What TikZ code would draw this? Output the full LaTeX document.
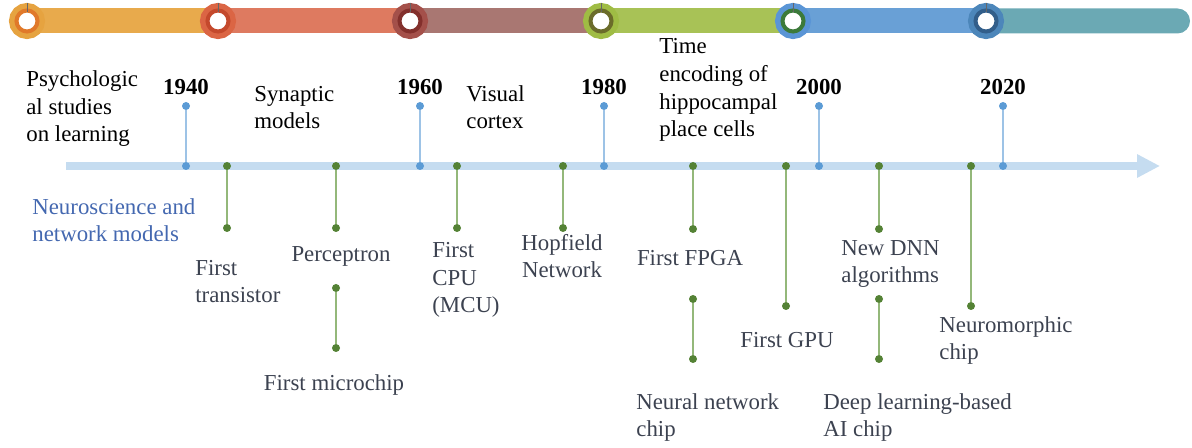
\documentclass[tikz,border=0pt]{standalone}
\usepackage{fontspec}
\setmainfont{Liberation Serif}
\usetikzlibrary{arrows.meta}
\definecolor{barA}{HTML}{E8AA4C}
\definecolor{barB}{HTML}{DE7A60}
\definecolor{barC}{HTML}{A97772}
\definecolor{barD}{HTML}{A8C256}
\definecolor{barE}{HTML}{69A0D6}
\definecolor{barF}{HTML}{6BA9B4}
\definecolor{ringAo}{HTML}{E6A340}
\definecolor{ringAi}{HTML}{E0792A}
\definecolor{ringBo}{HTML}{DB6544}
\definecolor{ringBi}{HTML}{C4492C}
\definecolor{ringCo}{HTML}{A4504A}
\definecolor{ringCi}{HTML}{83302C}
\definecolor{ringDo}{HTML}{9FBC44}
\definecolor{ringDi}{HTML}{6B6C2A}
\definecolor{ringEo}{HTML}{5A95D6}
\definecolor{ringEi}{HTML}{3C7A3A}
\definecolor{ringFo}{HTML}{4C86BA}
\definecolor{ringFi}{HTML}{325E8A}
\definecolor{axisblue}{HTML}{C5DCF0}
\definecolor{yearblue}{HTML}{5B9BD5}
\definecolor{stemblue}{HTML}{9DC3E6}
\definecolor{dotgreen}{HTML}{548235}
\definecolor{stemgreen}{HTML}{94B87A}
\definecolor{labelgrey}{HTML}{3C4250}
\definecolor{neuroblue}{HTML}{4468B0}
\begin{document}
\begin{tikzpicture}[x=0.02cm, y=-0.02cm,
    every node/.style={font=\fontsize{13}{15.9}\selectfont, inner sep=0pt},
    ring/.style 2 args={circle, minimum size=0.42cm, fill=white, draw=#2, line width=2.3pt, preaction={draw=#1, line width=8.5pt}},
    bdot/.style={circle, fill=yearblue, minimum size=0.16cm},
    gdot/.style={circle, fill=dotgreen, minimum size=0.16cm},
    bstem/.style={stemblue, line width=0.8pt},
    gstem/.style={stemgreen, line width=0.8pt},
    year/.style={anchor=base, font=\fontsize{13}{15.9}\selectfont\bfseries},
    toptxt/.style={anchor=base west, align=left},
    lbl/.style={anchor=base west, align=left, text=labelgrey},
    lblc/.style={anchor=base, align=center, text=labelgrey}]
    \useasboundingbox (0,0) rectangle (1192,448);

    % Barra colorata in alto
    \fill[barA] (15,8.5) rectangle (218,33.5);
    \fill[barB] (218,8.5) rectangle (410,33.5);
    \fill[barC] (410,8.5) rectangle (601,33.5);
    \fill[barD] (601,8.5) rectangle (793,33.5);
    \fill[barE] (793,8.5) rectangle (986,33.5);
    \fill[barF, rounded corners=0.25cm] (986,8.5) rectangle (1190,33.5);
    \node[ring={ringAo}{ringAi}] (r1) at (27,21) {};
    \node[ring={ringBo}{ringBi}] (r2) at (218,21) {};
    \node[ring={ringCo}{ringCi}] (r3) at (410,21) {};
    \node[ring={ringDo}{ringDi}] (r4) at (601,21) {};
    \node[ring={ringEo}{ringEi}] (r5) at (793,21) {};
    \node[ring={ringFo}{ringFi}] (r6) at (986,21) {};
    \draw[black!60, line width=0.5pt] (27,3) -- (27,12);
    \draw[black!60, line width=0.5pt] (218,3) -- (218,12);
    \draw[black!60, line width=0.5pt] (410,3) -- (410,12);
    \draw[black!60, line width=0.5pt] (601,3) -- (601,12);
    \draw[black!60, line width=0.5pt] (793,3) -- (793,12);
    \draw[black!60, line width=0.5pt] (986,3) -- (986,12);

    % Asse del tempo
    \coordinate (axs) at (66,166);
    \coordinate (axe) at (1160,166);
    \draw[axisblue, line width=4pt, -{Triangle[length=13pt, width=12.5pt]}] (axs) -- (axe);

    % Anni
    \node[bdot] (t40) at (186,106) {};
    \node[bdot] (b40) at (186,166) {};
    \node[bdot] (t60) at (420,106) {};
    \node[bdot] (b60) at (420,166) {};
    \node[bdot] (t80) at (604,106) {};
    \node[bdot] (b80) at (604,166) {};
    \node[bdot] (t00) at (819,106) {};
    \node[bdot] (b00) at (819,166) {};
    \node[bdot] (t20) at (1003,106) {};
    \node[bdot] (b20) at (1003,166) {};
    \draw[bstem] (t40) -- (b40);
    \draw[bstem] (t60) -- (b60);
    \draw[bstem] (t80) -- (b80);
    \draw[bstem] (t00) -- (b00);
    \draw[bstem] (t20) -- (b20);
    \node[year] (y40) at (186,95) {1940};
    \node[year] (y60) at (420,95) {1960};
    \node[year] (y80) at (604,95) {1980};
    \node[year] (y00) at (819,95) {2000};
    \node[year] (y20) at (1003,95) {2020};

    % Neuroscienze (sopra), base = ultima riga
    \node[toptxt] (psy) at (26,142) {Psychologic\\al studies\\on learning};
    \node[toptxt] (syn) at (254,129) {Synaptic\\models};
    \node[toptxt] (vis) at (466,129) {Visual\\cortex};
    \node[toptxt] (hip) at (659,137) {Time\\encoding of\\hippocampal\\place cells};
    \node[toptxt, text=neuroblue] (neu) at (32,242) {Neuroscience and\\network models};

    % Hardware (sotto)
    \node[gdot] (tra1) at (227,166) {};
    \node[gdot] (tra2) at (227,228) {};
    \node[gdot] (per1) at (336,166) {};
    \node[gdot] (per2) at (336,228) {};
    \node[gdot] (mic1) at (336,288) {};
    \node[gdot] (mic2) at (336,348) {};
    \node[gdot] (cpu1) at (457,166) {};
    \node[gdot] (cpu2) at (457,228) {};
    \node[gdot] (hop1) at (563,166) {};
    \node[gdot] (hop2) at (563,228) {};
    \node[gdot] (fpg1) at (693,166) {};
    \node[gdot] (fpg2) at (693,229) {};
    \node[gdot] (nnc1) at (693,299) {};
    \node[gdot] (nnc2) at (693,359) {};
    \node[gdot] (gpu1) at (786,166) {};
    \node[gdot] (gpu2) at (786,306) {};
    \node[gdot] (dnn1) at (879,166) {};
    \node[gdot] (dnn2) at (879,229) {};
    \node[gdot] (dla1) at (879,299) {};
    \node[gdot] (dla2) at (879,359) {};
    \node[gdot] (nmc1) at (971,166) {};
    \node[gdot] (nmc2) at (971,306) {};
    \draw[gstem] (tra1) -- (tra2);
    \draw[gstem] (per1) -- (per2);
    \draw[gstem] (mic1) -- (mic2);
    \draw[gstem] (cpu1) -- (cpu2);
    \draw[gstem] (hop1) -- (hop2);
    \draw[gstem] (fpg1) -- (fpg2);
    \draw[gstem] (nnc1) -- (nnc2);
    \draw[gstem] (gpu1) -- (gpu2);
    \draw[gstem] (dnn1) -- (dnn2);
    \draw[gstem] (dla1) -- (dla2);
    \draw[gstem] (nmc1) -- (nmc2);
    \node[lbl] (tratxt) at (195,303) {First\\transistor};
    \node[lblc] (pertxt) at (341,262) {Perceptron};
    \node[lblc] (mictxt) at (334,391) {First microchip};
    \node[lbl] (cputxt) at (432,313) {First\\CPU\\(MCU)};
    \node[lblc] (hoptxt) at (562,278) {Hopfield\\Network};
    \node[lblc] (fpgtxt) at (690,266) {First FPGA};
    \node[lbl] (nnctxt) at (636,437) {Neural network\\chip};
    \node[lblc] (gputxt) at (787,348) {First GPU};
    \node[lbl] (dnntxt) at (841,283) {New DNN\\algorithms};
    \node[lbl] (dlatxt) at (823,437) {Deep learning-based\\AI chip};
    \node[lbl] (nmctxt) at (939,360) {Neuromorphic\\chip};
\end{tikzpicture}
\end{document}
